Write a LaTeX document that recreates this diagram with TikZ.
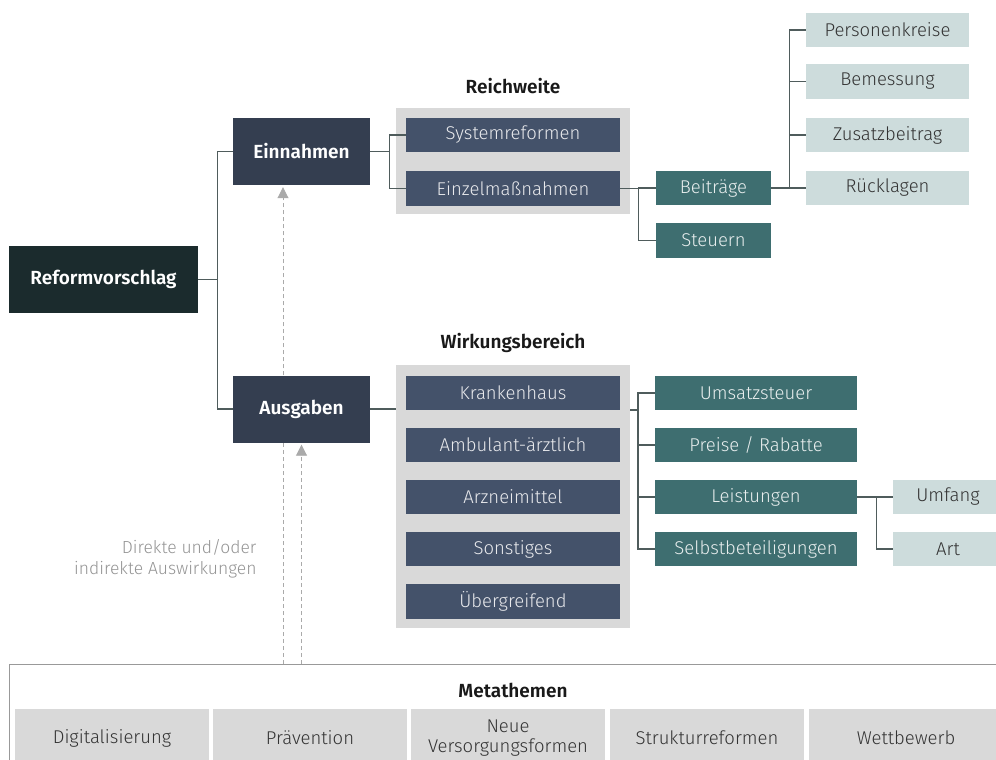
\documentclass[tikz,border=0pt]{standalone}
\usepackage{fontspec}
\setmainfont{Fira Sans}[UprightFont={* Light}, BoldFont={* SemiBold}]
\usetikzlibrary{positioning,arrows.meta}
\definecolor{dunkel}{HTML}{1B2B2D}
\definecolor{navy}{HTML}{343E50}
\definecolor{schiefer}{HTML}{44526A}
\definecolor{petrol}{HTML}{3E6E70}
\definecolor{hell}{HTML}{CDDCDC}
\definecolor{grau}{HTML}{D9D9D9}
\definecolor{linie}{HTML}{4F5C5C}
\definecolor{strich}{HTML}{AAAAAA}

\begin{document}
\begin{tikzpicture}[
        x=1pt, y=-1pt,
        haupt/.style={fill=navy, text=white, inner sep=0, minimum width=137, minimum height=67,
            font=\fontsize{19}{22}\selectfont\bfseries},
        unter/.style={fill=schiefer, text=white!88!schiefer, inner sep=0, minimum width=214, minimum height=34.5,
            font=\fontsize{18.5}{21}\selectfont},
        teal/.style={unter, fill=petrol, text=white!88!petrol},
        blass/.style={unter, fill=hell, text=black!80, minimum width=163},
        feld/.style={fill=grau, inner sep=0, minimum width=234},
        meta/.style={fill=grau, text=black!80, inner sep=0, minimum width=194, minimum height=58,
            align=center, font=\fontsize{18.5}{20}\selectfont},
        titel/.style={font=\fontsize{19}{22}\selectfont\bfseries, text=black!90},
        con/.style={draw=linie, line width=1.2pt},
        dsh/.style={draw=strich, line width=0.9pt, dash pattern=on 4pt off 3pt},
        spitze/.style={-{Triangle[width=11pt,length=11pt,fill=strich]}, shorten >=2pt}
    ]
    \useasboundingbox (0,0) rectangle (996,760);

    % linke Ebene
    \node[haupt, fill=dunkel, minimum width=189] (reform) at (103.5,279.5) {Reformvorschlag};
    \node[haupt] (einn) at (301.5,151.5) {Einnahmen};
    \node[haupt] (ausg) at (301.5,409) {Ausgaben};

    % Reichweite
    \node[titel] (rtitel) at (513,86) {Reichweite};
    \node[feld, minimum height=106] (rpanel) at (513,161) {};
    \node[unter] (sysref) at (513,135) {Systemreformen};
    \node[unter] (einzel) at (513,188.5) {Einzelmaßnahmen};
    \node[teal, minimum width=115] (beitr) at (713.5,188) {Beiträge};
    \node[teal, minimum width=115] (steuern) at (713.5,240.5) {Steuern};
    \node[blass] (pers) at (887.5,30) {Personenkreise};
    \node[blass] (bem) at (887.5,81.5) {Bemessung};
    \node[blass] (zus) at (887.5,135) {Zusatzbeitrag};
    \node[blass] (rueck) at (887.5,188) {Rücklagen};

    % Wirkungsbereich
    \node[titel] (wtitel) at (513,343) {Wirkungsbereich};
    \node[feld, minimum height=263] (wpanel) at (513,496.5) {};
    \node[unter] (kh) at (513,393) {Krankenhaus};
    \node[unter] (amb) at (513,445) {Ambulant-ärztlich};
    \node[unter] (arz) at (513,497) {Arzneimittel};
    \node[unter] (sonst) at (513,549) {Sonstiges};
    \node[unter] (ueber) at (513,601.5) {Übergreifend};
    \node[teal, minimum width=202] (ust) at (756,393) {Umsatzsteuer};
    \node[teal, minimum width=202] (preis) at (756,445) {Preise / Rabatte};
    \node[teal, minimum width=202] (leist) at (756,497) {Leistungen};
    \node[teal, minimum width=202] (selbst) at (756,549) {Selbstbeteiligungen};
    \node[blass, minimum width=110] (umf) at (948,497) {Umfang};
    \node[blass, minimum width=110] (art) at (948,549) {Art};

    % Metathemen
    \node[draw=black!40, line width=1pt, inner sep=0, minimum width=1002, minimum height=112] (rahmen) at (510,720) {};
    \node[titel] (mtitel) at (513,690) {Metathemen};
    \node[meta] (digi) at (112,738) {Digitalisierung};
    \node[meta] (praev) at (310,738) {Prävention};
    \node[meta] (neue) at (508,738) {Neue\\Versorgungsformen};
    \node[meta] (struk) at (707,738) {Strukturreformen};
    \node[meta] (wett) at (906,738) {Wettbewerb};

    % Verbindungen
    \draw[con] (reform.east) -- ++(19,0) coordinate (j1);
    \draw[con] (einn.west) -| (j1) |- (ausg.west);
    \draw[con] (einn.east) -- ++(19,0) coordinate (j2);
    \draw[con] (sysref.west) -| (j2) |- (einzel.west);
    \draw[con] (ausg.east) -- (ausg.east -| wpanel.west);
    \draw[con] (einzel.east) -- ++(18,0) coordinate (j3);
    \draw[con] (beitr.west) -| (j3) |- (steuern.west);
    \draw[con] (beitr.east) -- ++(18,0) coordinate (j4);
    \draw[con] (pers.west) -| (j4);
    \draw[con] (bem.west) -| (j4);
    \draw[con] (zus.west) -| (j4);
    \draw[con] (rueck.west) -| (j4);
    \coordinate (j5) at (638,410);
    \draw[con] (wpanel.east |- j5) -- (j5);
    \draw[con] (ust.west) -| (j5) |- (selbst.west);
    \draw[con] (preis.west) -| (j5);
    \draw[con] (leist.west) -| (j5);
    \draw[con] (leist.east) -- ++(19,0) coordinate (j6);
    \draw[con] (umf.west) -| (j6) |- (art.west);

    % Auswirkungen
    \coordinate (f1) at (283,664);
    \coordinate (f2) at (301.5,664);
    \draw[dsh, spitze] ([xshift=-18.5pt]ausg.north) -- ([xshift=-18.5pt]einn.south);
    \draw[dsh] (f1) -- ([xshift=-18.5pt]ausg.south);
    \draw[dsh, spitze] (f2) -- (ausg.south);
    \node[text=black!42, align=right, anchor=east, font=\fontsize{17.5}{21}\selectfont] (hinweis) at (260,559)
        {Direkte und/oder\\indirekte Auswirkungen};
\end{tikzpicture}
\end{document}
